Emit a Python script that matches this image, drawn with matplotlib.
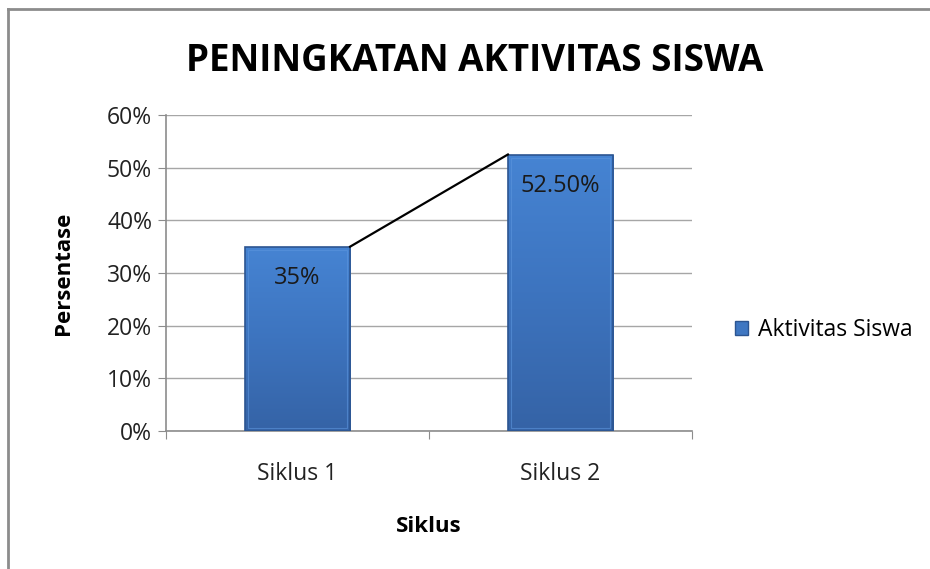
import matplotlib.pyplot as plt
import numpy as np
from matplotlib.lines import Line2D
from matplotlib.patches import Rectangle

categories = ['Siklus 1', 'Siklus 2']
values = [35, 52.5]
value_labels = ['35%', '52.50%']
yticks = [0, 10, 20, 30, 40, 50, 60]
series_name = 'Aktivitas Siswa'

plt.rcParams['font.family'] = ['Open Sans', 'DejaVu Sans']

fig = plt.figure(figsize=(9.3, 5.69), dpi=100)
ax = fig.add_axes([166/930, 138/569, 526/930, 316/569])

# frame of the chart area: only top and left are visible
fig.add_artist(Line2D([8/930, 8/930], [0, 1 - 9/569], color='#8c8c8c', lw=2))
fig.add_artist(Line2D([8/930, 1], [1 - 9/569, 1 - 9/569], color='#8c8c8c', lw=2))

w = 0.4
x = np.arange(len(categories))
bars = ax.bar(x, values, width=w, color='#3f73ba', zorder=3)

# vertical gradient + darker sides to fake the bevel look
grad = np.linspace(0, 1, 256).reshape(-1, 1)
cmap = plt.matplotlib.colors.LinearSegmentedColormap.from_list(
    'b', ['#3563a6', '#3d74bf', '#4684d3'])
for b in bars:
    x0, y0 = b.get_x(), b.get_y()
    bw, bh = b.get_width(), b.get_height()
    im = ax.imshow(grad, extent=[x0, x0 + bw, y0, y0 + bh], origin='lower',
                   cmap=cmap, aspect='auto', zorder=3.1)
    im.set_clip_path(b)
    ax.add_patch(Rectangle((x0, y0), bw, bh, fill=False, ec='#2c5591', lw=1.2, zorder=3.3))
    ax.add_patch(Rectangle((x0 + bw * 0.03, y0 + 0.6), bw * 0.94, bh - 1.2, fill=False,
                           ec='#5c95dd', lw=0.8, alpha=0.6, zorder=3.2))

# line joining the bar tops
ax.plot([x[0] + w/2, x[1] - w/2], [values[0], values[1]], color='black', lw=1.6, zorder=4)

for xi, v, lab in zip(x, values, value_labels):
    ax.text(xi, v - 6.0, lab, ha='center', va='center', fontsize=17, color='#1a1a1a', zorder=5)

ax.set_xlim(-0.5, 1.5)
ax.set_ylim(0, 60)
ax.set_yticks(yticks)
ax.set_yticklabels([f'{t}%' for t in yticks], fontsize=16.5, color='#222222')
ax.set_xticks([-0.5, 0.5, 1.5], minor=False)
ax.set_xticklabels([])
ax.set_xticks(x, minor=True)
ax.set_xticklabels(categories, minor=True, fontsize=16.5, color='#222222')
ax.tick_params(axis='x', which='major', length=6, color='#8c8c8c', direction='out')
ax.tick_params(axis='x', which='minor', length=0, pad=22)
ax.tick_params(axis='y', length=6, color='#8c8c8c', direction='out', pad=4)
ax.grid(axis='y', color='#a6a6a6', lw=1, zorder=0)
for s in ['top', 'right']:
    ax.spines[s].set_visible(False)
for s in ['left', 'bottom']:
    ax.spines[s].set_color('#8c8c8c')
    ax.spines[s].set_linewidth(1.2)

ax.set_ylabel('Persentase', fontsize=16, fontweight='bold', labelpad=24)
ax.set_xlabel('Siklus', fontsize=16, fontweight='bold', labelpad=22)

fig.text(475/930, 1 - 61/569, 'PENINGKATAN AKTIVITAS SISWA', ha='center', va='center',
         fontsize=26.5, fontweight='bold')

handle = Rectangle((0, 0), 1, 1, fc='#3f77c2', ec='#2c5591')
fig.legend([handle], [series_name], loc='center left', bbox_to_anchor=(714/930, 1 - 330/569),
           frameon=False, fontsize=16.5, handlelength=0.6, handleheight=0.6, handletextpad=0.4)

fig.savefig('out.png', dpi=100, facecolor='white')
